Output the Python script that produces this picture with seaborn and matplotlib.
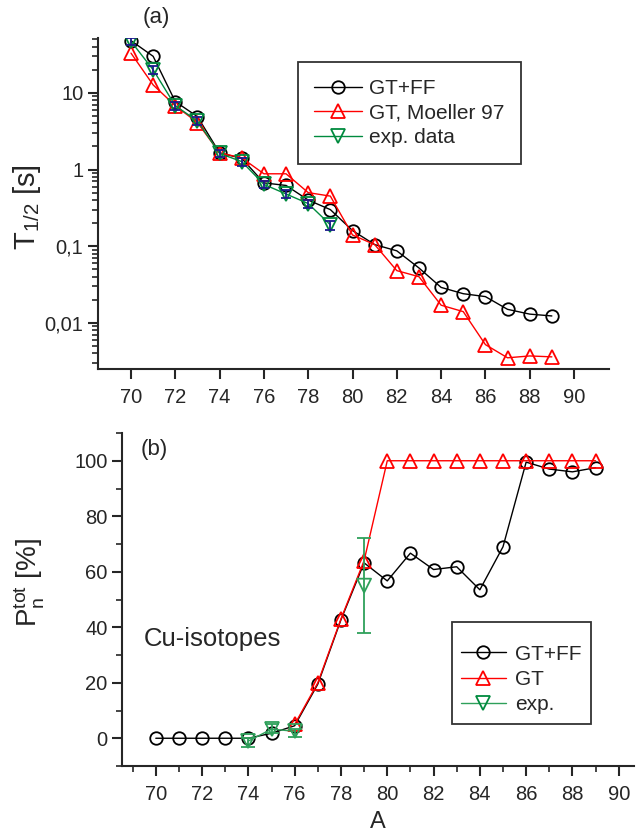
import numpy as np
import pandas as pd
import matplotlib
matplotlib.use("Agg")
import matplotlib.pyplot as plt
import matplotlib.ticker as mticker
from matplotlib.lines import Line2D
import seaborn as sns

# ---------------- data ----------------
A_all = [70, 71, 72, 73, 74, 75, 76, 77, 78, 79, 80, 81, 82, 83, 84, 85, 86, 87, 88, 89]

# (a) half-lives [s]
t_gtff = [48, 30, 7.7, 4.9, 1.65, 1.4, 0.67, 0.62, 0.40, 0.30, 0.16, 0.105, 0.087, 0.052,
          0.029, 0.024, 0.022, 0.015, 0.013, 0.0123]
t_gt = [33, 12.7, 6.8, 4.1, 1.65, 1.42, 0.88, 0.88, 0.50, 0.45, 0.14, 0.105, 0.048, 0.040,
        0.017, 0.014, 0.0052, 0.0035, 0.0037, 0.0036]
A_exp_t = [70, 71, 72, 73, 74, 75, 76, 77, 78, 79]
t_exp = [47, 20, 6.8, 4.3, 1.62, 1.27, 0.64, 0.48, 0.36, 0.19]
t_exp_err = [5, 2.4, 0.8, 0.5, 0.18, 0.15, 0.07, 0.06, 0.045, 0.025]

# (b) total neutron emission probability [%]
p_gtff = [0, 0, 0, 0, 0, 1.8, 4.5, 19.5, 42.7, 63.2, 56.7, 66.7, 60.8, 61.8, 53.5, 69,
          99.5, 97, 96, 97.5]
A_gt_p = [76, 77, 78, 79, 80, 81, 82, 83, 84, 85, 86, 87, 88, 89]
p_gt = [5, 20, 43, 64, 100, 100, 100, 100, 100, 100, 100, 100, 100, 100]
A_exp_p = [74, 75, 76, 79]
p_exp = [-1, 3.3, 2.5, 55]
p_exp_lo = [2, 1.5, 2, 17]
p_exp_hi = [1, 1.7, 1, 17]

xticks = [70, 72, 74, 76, 78, 80, 82, 84, 86, 88, 90]
yticks_a = [0.01, 0.1, 1, 10]
yticklabels_a = ["0,01", "0,1", "1", "10"]
yticks_b = [0, 20, 40, 60, 80, 100]

# ---------------- style ----------------
sns.set_style("ticks")
plt.rcParams["font.family"] = ["Liberation Sans", "DejaVu Sans"]
plt.rcParams["mathtext.fontset"] = "custom"
plt.rcParams["mathtext.rm"] = "Liberation Sans"
plt.rcParams["mathtext.it"] = "Liberation Sans"
plt.rcParams["axes.linewidth"] = 1.5
plt.rcParams["xtick.direction"] = "out"
plt.rcParams["ytick.direction"] = "out"

W, H = 636, 833
fig = plt.figure(figsize=(W / 100, H / 100), dpi=100)

def px_axes(left, top, right, bottom):
    return fig.add_axes([left / W, 1 - bottom / H, (right - left) / W, (bottom - top) / H])

ax1 = px_axes(98, 38, 609, 369)
ax2 = px_axes(122, 433, 634, 766)

BLACK = "black"
RED = "#ff0000"
GREEN = "#008a3e"
GREEN2 = "#2ea05a"
NAVY = "#1a1a8c"

def line(ax, x, y, color, marker, ms, z):
    sns.lineplot(x=x, y=y, ax=ax, color=color, marker=marker, markersize=ms,
                 markerfacecolor="none", markeredgecolor=color, markeredgewidth=1.3,
                 linewidth=1.0, legend=False, errorbar=None, sort=False, zorder=z)

# ---------------- panel (a) ----------------
line(ax1, A_all, t_gtff, BLACK, "o", 9, 3)
line(ax1, A_all, t_gt, RED, "^", 10, 4)
line(ax1, A_exp_t, t_exp, GREEN, "v", 10, 5)
ax1.errorbar(A_exp_t, t_exp, yerr=t_exp_err, fmt="none", ecolor=NAVY, elinewidth=1.3,
             capsize=3.5, capthick=1.3, zorder=6)

ax1.set_yscale("log")
ax1.set_ylim(0.0025, 52)
ax1.set_xlim(68.51, 91.58)
ax1.yaxis.set_major_locator(mticker.FixedLocator(yticks_a))
ax1.yaxis.set_major_formatter(mticker.FixedFormatter(yticklabels_a))
ax1.yaxis.set_minor_locator(mticker.LogLocator(base=10, subs=np.arange(2, 10), numticks=20))
ax1.yaxis.set_minor_formatter(mticker.NullFormatter())
ax1.set_xticks(xticks)
ax1.set_xlabel("")
ax1.set_ylabel(r"T$_{1/2}$ [s]", fontsize=21)
ax1.yaxis.set_label_coords(-0.108, 0.49)
ax1.tick_params(axis="both", which="major", labelsize=14.5, length=7, width=1.5)
ax1.tick_params(axis="x", which="major", pad=7)
ax1.tick_params(axis="y", which="minor", length=4, width=1.2)
sns.despine(ax=ax1)

h1 = [Line2D([], [], color=BLACK, marker="o", ms=9, mfc="none", mec=BLACK, mew=1.3, lw=1),
      Line2D([], [], color=RED, marker="^", ms=10, mfc="none", mec=RED, mew=1.3, lw=1),
      Line2D([], [], color=GREEN, marker="v", ms=10, mfc="none", mec=GREEN, mew=1.3, lw=1)]
leg1 = ax1.legend(h1, ["GT+FF", "GT, Moeller 97", "exp. data"], loc="upper left",
                  bbox_to_anchor=(0.391, 0.927), fontsize=15, frameon=True, fancybox=False,
                  framealpha=1, edgecolor="#333333", handlelength=2.3, handletextpad=0.3,
                  labelspacing=0.27, borderpad=0.8, borderaxespad=0)
leg1.get_frame().set_linewidth(1.3)

fig.text(143 / W, 1 - 18 / H, "(a)", fontsize=16, va="center", ha="left")

# ---------------- panel (b) ----------------
line(ax2, A_all, p_gtff, BLACK, "o", 9, 3)
line(ax2, A_gt_p, p_gt, RED, "^", 10, 4)
sns.lineplot(x=A_exp_p[:3], y=p_exp[:3], ax=ax2, color=GREEN2, marker="v", markersize=10,
             markerfacecolor="none", markeredgecolor=GREEN2, markeredgewidth=1.3,
             linewidth=1.0, legend=False, errorbar=None, sort=False, zorder=5)
sns.scatterplot(x=A_exp_p[3:], y=p_exp[3:], ax=ax2, marker="v", s=100,
                facecolor="none", edgecolor=GREEN2, linewidth=1.3, legend=False, zorder=5)
ax2.errorbar(A_exp_p, p_exp, yerr=[p_exp_lo, p_exp_hi], fmt="none", ecolor=GREEN2,
             elinewidth=1.3, capsize=5, capthick=1.3, zorder=6)

ax2.set_xlim(68.54, 90.66)
ax2.set_ylim(-10, 110)
ax2.set_xticks(xticks)
ax2.xaxis.set_minor_locator(mticker.MultipleLocator(1))
ax2.set_yticks(yticks_b)
ax2.yaxis.set_minor_locator(mticker.MultipleLocator(10))
ax2.tick_params(axis="both", which="major", labelsize=14.5, length=7, width=1.5)
ax2.tick_params(axis="x", which="major", pad=7)
ax2.tick_params(axis="both", which="minor", length=4, width=1.2)
ax2.set_xlabel("A", fontsize=17, labelpad=5)
ax2.set_ylabel(r"P$_n^{tot}$ [%]", fontsize=20)
ax2.yaxis.set_label_coords(-0.147, 0.55)
sns.despine(ax=ax2)

h2 = [Line2D([], [], color=BLACK, marker="o", ms=9, mfc="none", mec=BLACK, mew=1.3, lw=1),
      Line2D([], [], color=RED, marker="^", ms=10, mfc="none", mec=RED, mew=1.3, lw=1),
      Line2D([], [], color=GREEN2, marker="v", ms=10, mfc="none", mec=GREEN, mew=1.3, lw=1)]
leg2 = ax2.legend(h2, ["GT+FF", "GT", "exp."], loc="upper right",
                  bbox_to_anchor=(0.916, 0.432), fontsize=15, frameon=True, fancybox=False,
                  framealpha=1, edgecolor="#333333", handlelength=2.15, handletextpad=0.45,
                  labelspacing=0.3, borderpad=0.45, borderaxespad=0,
                  title=" ", title_fontsize=6)
leg2.get_frame().set_linewidth(1.3)

fig.text(141 / W, 1 - 450 / H, "(b)", fontsize=16, va="center", ha="left")
fig.text(144 / W, 1 - 639 / H, "Cu-isotopes", fontsize=18.5, va="center", ha="left")

fig.savefig("out.png", dpi=100)
